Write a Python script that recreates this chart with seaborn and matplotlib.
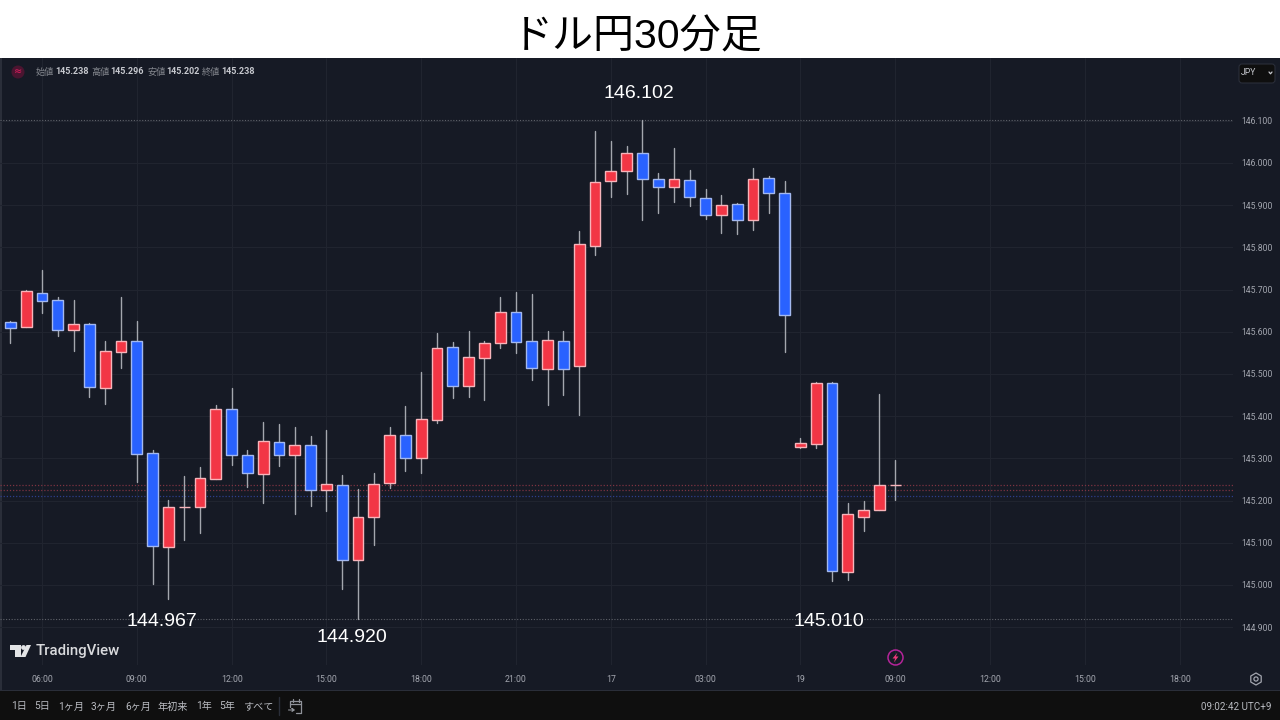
import matplotlib
matplotlib.use("Agg")
import matplotlib.pyplot as plt
import numpy as np
import pandas as pd
import seaborn as sns
from matplotlib.patches import Circle, FancyBboxPatch, Polygon, Rectangle

# 30 minute candles, price values
opens = [145.624, 145.611, 145.693, 145.675, 145.604, 145.618, 145.467, 145.551, 145.577, 145.312,
         145.091, 145.185, 145.184, 145.252, 145.416, 145.308, 145.264, 145.339, 145.307, 145.331,
         145.224, 145.238, 145.059, 145.160, 145.241, 145.356, 145.302, 145.391, 145.565, 145.472,
         145.537, 145.574, 145.648, 145.578, 145.513, 145.578, 145.520, 145.803, 145.957, 145.982,
         146.024, 145.961, 145.942, 145.960, 145.918, 145.877, 145.903, 145.864, 145.964, 145.929,
         145.328, 145.333, 145.478, 145.030, 145.161, 145.177, 145.238]
highs = [145.626, 145.699, 145.746, 145.682, 145.675, 145.620, 145.579, 145.683, 145.626, 145.320,
         145.201, 145.259, 145.279, 145.427, 145.467, 145.320, 145.387, 145.382, 145.374, 145.353,
         145.367, 145.260, 145.227, 145.265, 145.375, 145.424, 145.504, 145.596, 145.575, 145.603,
         145.577, 145.682, 145.694, 145.689, 145.602, 145.603, 145.839, 146.076, 146.053, 146.040,
         146.102, 145.976, 146.036, 145.984, 145.938, 145.924, 145.905, 145.988, 145.968, 145.957,
         145.348, 145.480, 145.481, 145.194, 145.199, 145.453, 145.296]
lows = [145.574, 145.611, 145.645, 145.590, 145.555, 145.446, 145.429, 145.514, 145.245, 145.002,
        144.967, 145.107, 145.124, 145.252, 145.284, 145.233, 145.195, 145.282, 145.168, 145.186,
        145.176, 144.991, 144.920, 145.095, 145.229, 145.269, 145.265, 145.385, 145.442, 145.446,
        145.438, 145.562, 145.549, 145.486, 145.427, 145.450, 145.403, 145.782, 145.919, 145.927,
        145.865, 145.882, 145.908, 145.897, 145.867, 145.833, 145.831, 145.841, 145.882, 145.551,
        145.325, 145.325, 145.010, 145.012, 145.129, 145.177, 145.202]
closes = [145.609, 145.696, 145.674, 145.605, 145.618, 145.470, 145.555, 145.577, 145.311, 145.093,
          145.185, 145.185, 145.254, 145.416, 145.307, 145.265, 145.341, 145.307, 145.331, 145.226,
          145.239, 145.059, 145.160, 145.239, 145.356, 145.302, 145.394, 145.562, 145.472, 145.540,
          145.574, 145.646, 145.575, 145.514, 145.580, 145.513, 145.808, 145.954, 145.982, 146.024,
          145.961, 145.942, 145.961, 145.919, 145.877, 145.901, 145.866, 145.961, 145.928, 145.640,
          145.337, 145.479, 145.033, 145.168, 145.177, 145.237, 145.238]

y_ticks = [144.9, 145.0, 145.1, 145.2, 145.3, 145.4, 145.5, 145.6, 145.7, 145.8, 145.9, 146.0, 146.1]
x_tick_pos = [2, 8, 14, 20, 26, 32, 38, 44, 50, 56, 62, 68, 74]
x_tick_labels = ["06:00", "09:00", "12:00", "15:00", "18:00", "21:00", "17", "03:00",
                 "19", "09:00", "12:00", "15:00", "18:00"]
grey_levels = [146.102, 144.920]
red_levels = [145.238, 145.225]
blue_levels = [145.210]
range_buttons = ["1日", "5日", "1ヶ月", "3ヶ月", "6ヶ月", "年初来", "1年", "5年", "すべて"]
button_x = [11.5, 34.5, 58, 91, 125, 158, 196.5, 219.5, 244]
ohlc_names = ["始値", "高値", "安値", "終値"]
ohlc_values = ["145.238", "145.296", "145.202", "145.238"]
ohlc_x = [36, 91.5, 147, 202]

BG = "#161a25"
GRID = "#20242f"
RED = "#f23645"
BLUE = "#2962ff"
LABEL = "#a3a6af"

sns.set_theme(style="darkgrid", rc={"axes.facecolor": BG, "grid.color": GRID, "grid.linewidth": 0.8})
plt.rcParams["font.family"] = ["Roboto", "Noto Sans CJK JP", "DejaVu Sans"]

df = pd.DataFrame({"pos": np.arange(len(opens)), "open": opens, "high": highs, "low": lows, "close": closes})
df["base"] = df[["open", "close"]].min(axis=1)
df["body"] = (df["close"] - df["open"]).abs()
up = df[df["close"] >= df["open"]]
down = df[df["close"] < df["open"]]
wicks = df.melt(id_vars="pos", value_vars=["high", "low"], value_name="price")

W, H = 1280, 720
fig = plt.figure(figsize=(W / 100, H / 100), dpi=100, facecolor="white")

# full figure layer in pixel coordinates for the panels around the chart
back = fig.add_axes([0, 0, 1, 1], zorder=0)
back.set_xlim(0, W)
back.set_ylim(H, 0)
back.axis("off")
back.add_patch(Rectangle((0, 58), W, 632, color=BG, lw=0))
back.add_patch(Rectangle((0, 58), 1.5, 632, color="#2a2e39", lw=0))
back.add_patch(Rectangle((0, 690), W, 30, color="#0f0f0f", lw=0))
back.add_patch(Rectangle((0, 689.5), W, 1.5, color="#2a2e39", lw=0))

# chart area, x in candle numbers, y in price
ax = fig.add_axes([0, 1 - 665 / H, 1233 / W, (665 - 58) / H], zorder=1)
ax.patch.set_alpha(0)
sns.lineplot(data=wicks, x="pos", y="price", units="pos", estimator=None, color="#a4a7ae",
             linewidth=1.0, legend=False, ax=ax, zorder=1.5)
sns.barplot(data=up, x="pos", y="body", bottom=up["base"], native_scale=True, color=RED, saturation=1,
            width=0.68, edgecolor="#f7b4ba", linewidth=1.0, errorbar=None, ax=ax, zorder=2)
sns.barplot(data=down, x="pos", y="body", bottom=down["base"], native_scale=True, color=BLUE, saturation=1,
            width=0.68, edgecolor="#a3b8ee", linewidth=1.0, errorbar=None, ax=ax, zorder=2)

for level in grey_levels:
    ax.axhline(level, color="#5f626a", lw=0.8, ls=(0, (1, 1.5)), zorder=1)
for level in red_levels:
    ax.axhline(level, color="#7d3341", lw=0.9, ls=(0, (1, 1.5)), zorder=1)
for level in blue_levels:
    ax.axhline(level, color="#2d3f8c", lw=0.9, ls=(0, (1, 1.5)), zorder=1)

ax.set_xlim(-0.658, 77.38)
ax.set_ylim(144.8104, 146.2488)
ax.set_xticks(x_tick_pos, x_tick_labels)
ax.set_yticks(y_ticks, [f"{v:.3f}" for v in y_ticks])
ax.yaxis.tick_right()
ax.set_xlabel("")
ax.set_ylabel("")
ax.tick_params(axis="x", length=0, pad=7.5, labelsize=6.3, colors=LABEL)
ax.tick_params(axis="y", length=0, pad=6, labelsize=6.2, colors=LABEL)
ax.grid(True, color=GRID, lw=0.8)
ax.set_axisbelow(True)
for spine in ax.spines.values():
    spine.set_visible(False)

# top layer for the text and icons
ui = fig.add_axes([0, 0, 1, 1], zorder=2)
ui.set_xlim(0, W)
ui.set_ylim(H, 0)
ui.axis("off")
ui.patch.set_alpha(0)

ui.text(637, 37, "ドル円30分足", ha="center", va="center", fontsize=29.5, color="black",
        family=["Liberation Sans", "Noto Sans CJK JP"])

for label, x, y in [("146.102", 639, 94), ("144.967", 162, 622), ("144.920", 352, 637), ("145.010", 829, 622)]:
    ui.text(x, y, label, ha="center", va="center", fontsize=14, color="white", family="Liberation Sans")

# OHLC header
ui.add_patch(Circle((18, 72), 6.5, color="#4a1530", lw=0))
ui.text(18, 71.5, "≈", ha="center", va="center", fontsize=7, color="#e91e63", family="DejaVu Sans")
for name, value, x in zip(ohlc_names, ohlc_values, ohlc_x):
    ui.text(x, 72, name, ha="left", va="center", fontsize=6.6, color="#85888f")
    ui.text(x + 19, 72, value, ha="left", va="center", fontsize=6.5, color="#c6c8ce", fontweight="bold")

# currency box
ui.add_patch(FancyBboxPatch((1240, 65), 34, 17, boxstyle="round,pad=1,rounding_size=3",
                            fc="#0f0f0f", ec="#2a2e39", lw=0.8))
ui.text(1241, 72.5, "JPY", ha="left", va="center", fontsize=6.2, color="#c6c8ce")
ui.plot([1269, 1270.5, 1272], [72, 73.8, 72], color="#c6c8ce", lw=0.9)

# TradingView logo
ui.add_patch(Polygon([(10, 645), (20.5, 645), (20.5, 657), (15, 657), (15, 650), (10, 650)],
                     color="#e3e4e6", lw=0))
ui.add_patch(Circle((23.5, 647.5), 2.4, color="#e3e4e6", lw=0))
ui.add_patch(Polygon([(26.5, 645), (31, 645), (25.5, 657), (20.5, 657)], color="#e3e4e6", lw=0))
ui.text(35.5, 651, "TradingView", ha="left", va="center", fontsize=10.8, color="#d9dadd", fontweight="medium")

# replay marker above the time axis
ui.add_patch(Circle((895.5, 657.5), 7.5, fc="none", ec="#b5249a", lw=1.1))
ui.add_patch(Polygon([(897.5, 652.5), (892.5, 658.5), (895.2, 658.5), (893.8, 662.5), (898.5, 656.5), (895.8, 656.5)],
                     color="#f0387a", lw=0))

# settings icon on the time axis
ui.scatter([1256], [679], s=75, marker="h", facecolor="none", edgecolor=LABEL, linewidth=0.9)
ui.scatter([1256], [679], s=9, marker="o", facecolor="none", edgecolor=LABEL, linewidth=0.9)

# bottom bar
for label, x in zip(range_buttons, button_x):
    ui.text(x, 706.5, label, ha="left", va="center", fontsize=7.3, color="#b8bac0")
ui.plot([278.5, 278.5], [697, 715], color="#2a2e39", lw=1)
ui.plot([290, 290, 301, 301, 296], [707, 701, 701, 713, 713], color="#8f9299", lw=0.9)
ui.plot([290, 301], [704, 704], color="#8f9299", lw=0.9)
ui.plot([292.5, 292.5], [699, 702], color="#8f9299", lw=0.9)
ui.plot([298.5, 298.5], [699, 702], color="#8f9299", lw=0.9)
ui.plot([288.5, 294, 292, 294, 292], [710, 710, 708.5, 710, 711.5], color="#8f9299", lw=0.8)
ui.text(1271, 706.5, "09:02:42 UTC+9", ha="right", va="center", fontsize=7.1, color="#b8bac0")

fig.savefig("out.png", dpi=100, facecolor="white")
